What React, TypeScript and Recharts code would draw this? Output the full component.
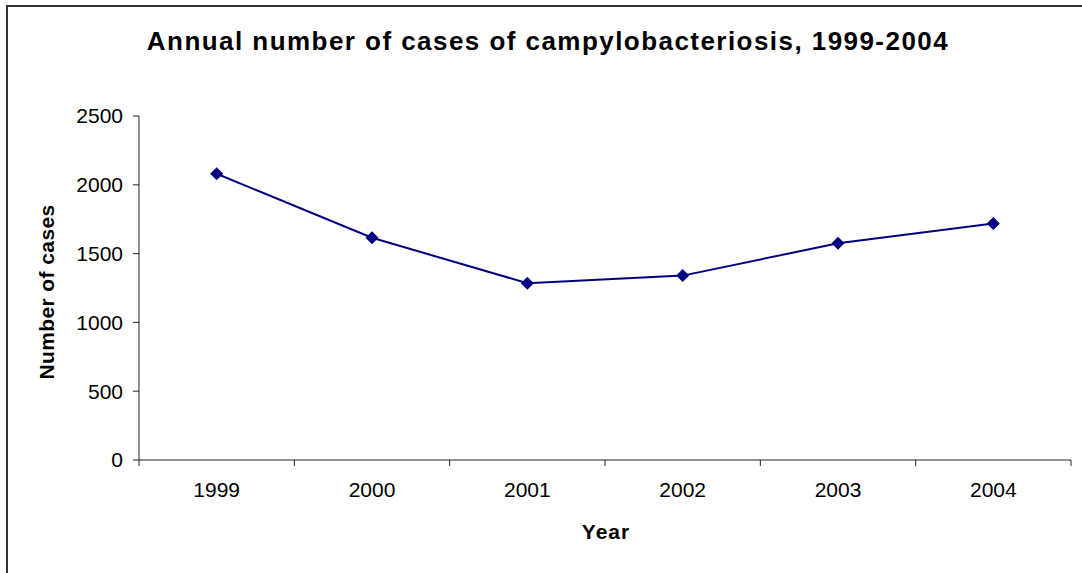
import React from 'react';
import { LineChart, Line, XAxis, YAxis } from 'recharts';

const years = ['1999', '2000', '2001', '2002', '2003', '2004'];
const cases = [2080, 1615, 1285, 1340, 1575, 1718];
const yTicks = [0, 500, 1000, 1500, 2000, 2500];

const data = years.map((year, i) => ({ year, cases: cases[i] }));

const W = 1082;
const H = 573;
const FONT = '"Liberation Sans", Arial, sans-serif';
const AXIS = '#222';
const NAVY = '#000080';
const BAND_HALF = (W - 139 - 11) / years.length / 2;

const Diamond = ({ cx, cy }: any) => {
  if (cx == null || cy == null) return null;
  const r = 6.5;
  return (
    <polygon
      points={`${cx},${cy - r} ${cx + r},${cy} ${cx},${cy + r} ${cx - r},${cy}`}
      fill={NAVY}
      stroke="none"
    />
  );
};

// label under category centre, tick marks on the band edges (Excel style)
const YearTick = ({ x, y, payload, index, visibleTicksCount }: any) => {
  const half = payload?.offset || BAND_HALF;
  const last = index === (visibleTicksCount ?? years.length) - 1;
  return (
    <g>
      <line x1={x - half} x2={x - half} y1={y} y2={y + 6} stroke={AXIS} strokeWidth={1} />
      {last && <line x1={x + half} x2={x + half} y1={y} y2={y + 6} stroke={AXIS} strokeWidth={1} />}
      <text x={x} y={y + 37} textAnchor="middle" fill="#000" fontFamily={FONT} fontSize={21}>
        {payload.value}
      </text>
    </g>
  );
};

export default function App() {
  return (
    <div style={{ position: 'absolute', left: 0, top: 0, width: W, height: H, overflow: 'hidden', background: '#fff' }}>
      {/* outer frame, only top/left edges visible in the crop */}
      <div
        style={{
          position: 'absolute',
          left: 6,
          top: 5,
          width: W + 20,
          height: H + 20,
          borderTop: '2px solid #333',
          borderLeft: '2px solid #333',
          boxSizing: 'border-box',
        }}
      />
      <div
        style={{
          position: 'absolute',
          left: 0,
          top: 26,
          width: 1096,
          textAlign: 'center',
          fontFamily: FONT,
          fontWeight: 'bold',
          fontSize: 26,
          letterSpacing: 1.45,
          color: '#000',
          lineHeight: '30px',
        }}
      >
        Annual number of cases of campylobacteriosis, 1999-2004
      </div>
      <div style={{ position: 'absolute', left: 0, top: 0 }}>
        <LineChart width={W} height={H} data={data} margin={{ top: 116, right: 11, bottom: 53, left: 0 }}>
          <XAxis
            dataKey="year"
            scale="band"
            height={60}
            axisLine={{ stroke: AXIS, strokeWidth: 1 }}
            tickLine={false}
            tickSize={0}
            tickMargin={0}
            tick={<YearTick />}
            interval={0}
            label={() => (
              <text
                x={606}
                y={539}
                textAnchor="middle"
                fontFamily={FONT}
                fontWeight="bold"
                fontSize={21}
                letterSpacing={1}
                fill="#000"
              >
                Year
              </text>
            )}
          />
          <YAxis
            width={139}
            domain={[0, 2500]}
            ticks={yTicks}
            interval={0}
            axisLine={{ stroke: AXIS, strokeWidth: 1 }}
            tickLine={{ stroke: AXIS, strokeWidth: 1 }}
            tickSize={6}
            tickMargin={10}
            tick={{ fill: '#000', fontFamily: FONT, fontSize: 21 }}
            label={() => (
              <text
                x={54}
                y={292}
                transform="rotate(-90 54 292)"
                textAnchor="middle"
                fontFamily={FONT}
                fontWeight="bold"
                fontSize={21}
                letterSpacing={0.4}
                fill="#000"
              >
                Number of cases
              </text>
            )}
          />
          <Line
            dataKey="cases"
            type="linear"
            stroke={NAVY}
            strokeWidth={2}
            dot={<Diamond />}
            activeDot={false}
            isAnimationActive={false}
          />
        </LineChart>
      </div>
    </div>
  );
}
